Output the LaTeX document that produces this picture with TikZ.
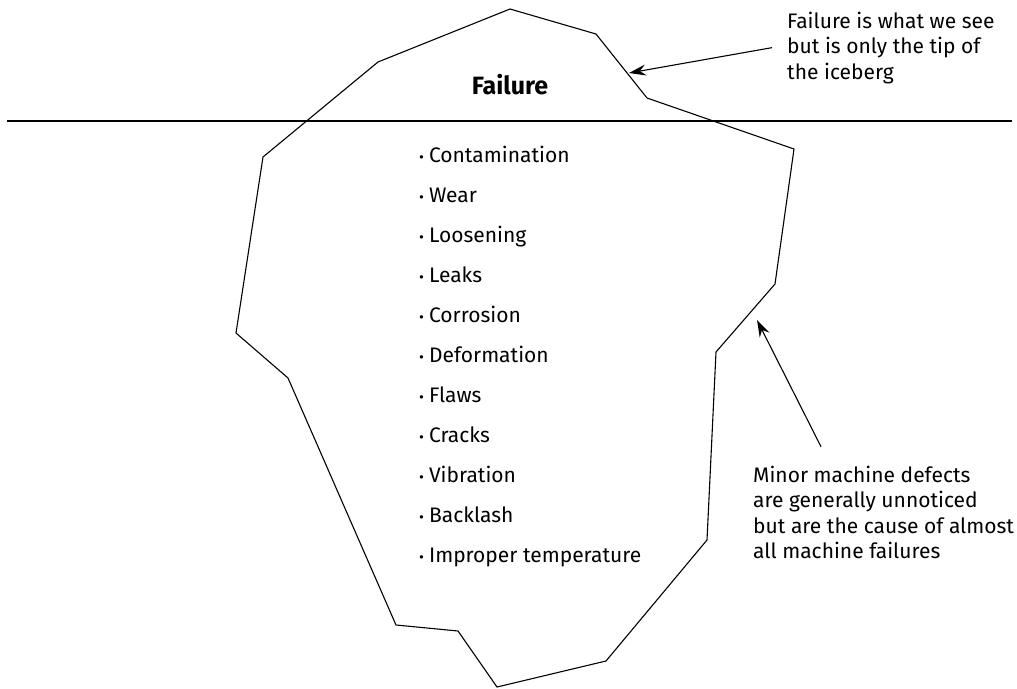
\documentclass[tikz,border=0pt]{standalone}
\usepackage{fontspec}
\setmainfont{Fira Sans}
\usetikzlibrary{positioning,arrows,arrows.meta}

\begin{document}
\begin{tikzpicture}[x=1pt,y=-1pt,
  txt/.style={font=\fontsize{21}{25.4}\selectfont},
  item/.style={txt,anchor=base west,inner sep=0pt},
  note/.style={txt,align=left,anchor=base west,inner sep=0pt},
  outline/.style={line width=1.1pt,line join=miter},
  pointer/.style={line width=1.1pt,-{Stealth[length=17pt,width=11pt,inset=6pt]}}]
\useasboundingbox (0,0) rectangle (1017,688);
% sea level
\draw[outline] (7,121) -- (1012,121);
% the iceberg
\draw[outline] (510,9) -- (596,34) -- (647,98) -- (794,149) -- (775,284)
  -- (716,352) -- (707,540) -- (606,661) -- (497,687) -- (458,631)
  -- (396,625) -- (288,378) -- (236,333) -- (263,157) -- (378,62) -- cycle;
\node[txt,anchor=base,inner sep=0pt,font=\fontsize{25}{28}\selectfont\bfseries] (failure) at (510,94) {Failure};
% causes below the water
\foreach \i/\cause in {0/Contamination,1/Wear,2/Loosening,3/Leaks,4/Corrosion,
  5/Deformation,6/Flaws,7/Cracks,8/Vibration,9/Backlash,10/Improper temperature}
  \node[item] (cause\i) at (419,162+40*\i) {{\fontsize{15}{15}\selectfont•}\hspace{5pt}\cause};
% notes (base = last line)
\node[note] (seen) at (787,79) {Failure is what we see\\but is only the tip of\\the iceberg};
\node[note] (defects) at (753,558.5) {Minor machine defects\\are generally unnoticed\\but are the cause of almost\\all machine failures};
\coordinate (tipmark) at (629,73);
\coordinate (defectmark) at (757,320);
\draw[pointer] ([xshift=-15pt]seen.west) -- (tipmark);
\draw[pointer] ([xshift=68pt,yshift=19pt]defects.north west) -- (defectmark);
\end{tikzpicture}
\end{document}
